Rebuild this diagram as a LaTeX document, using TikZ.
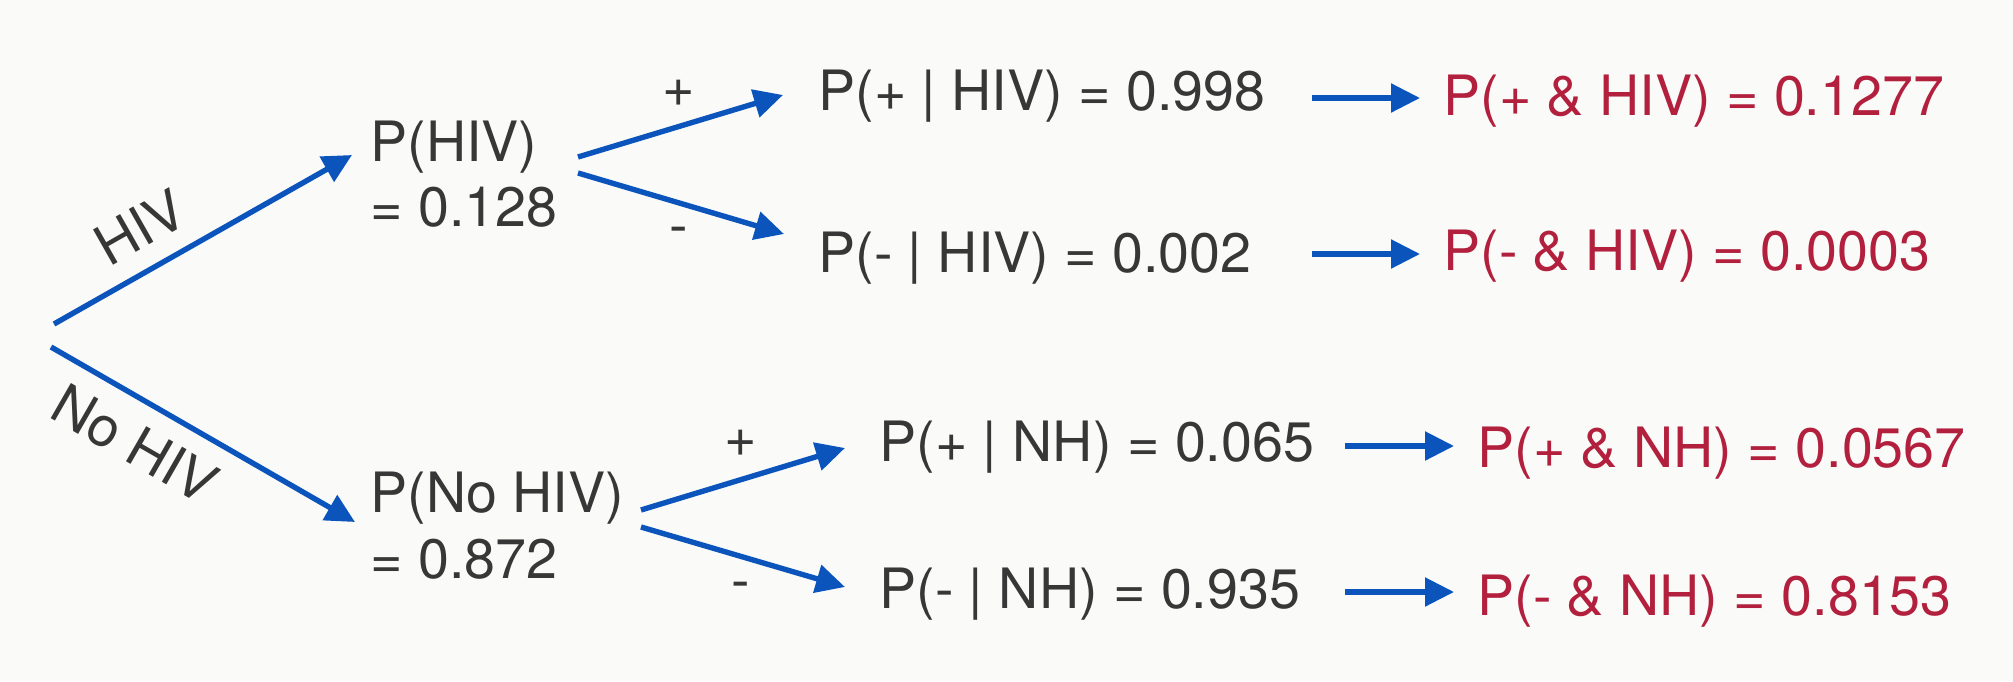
\documentclass[tikz,border=0pt]{standalone}
\usepackage{fontspec}
\setmainfont{TeX Gyre Heros}
\usetikzlibrary{arrows.meta,calc}
\definecolor{arrblue}{RGB}{10,84,188}
\definecolor{txtgray}{RGB}{55,55,55}
\definecolor{jred}{RGB}{178,32,62}
\definecolor{bgcol}{RGB}{250,250,248}
\begin{document}
\begin{tikzpicture}[x=0.5pt,y=-0.5pt,
  arr/.style={draw=arrblue, line width=2.7pt, -{Triangle[length=14.5pt,width=14pt]}},
  txt/.style={text=txtgray, inner sep=0pt, anchor=base west, font=\fontsize{27.8}{33}\selectfont},
  jnt/.style={txt, text=jred},
  lbl/.style={text=txtgray, inner sep=0pt, font=\fontsize{27.8}{33}\selectfont}]
\fill[bgcol] (0,0) rectangle (2013,681);
\useasboundingbox (0,0) rectangle (2013,681);

% root
\coordinate (rootA) at (54,324);
\coordinate (rootB) at (51,347);

% first level
\node[txt] (phiv)  at (370,161) {P(HIV)};
\node[txt] (phivv) at (370,226) {= 0.128};
\node[txt] (pno)   at (370,512) {P(No HIV)};
\node[txt] (pnov)  at (370,578) {= 0.872};

% conditionals
\node[txt] (c1) at (818,110) {P(+ | HIV) = 0.998};
\node[txt] (c2) at (818,272) {P(- | HIV) = 0.002};
\node[txt] (c3) at (879,461) {P(+ | NH) = 0.065};
\node[txt] (c4) at (879,608) {P(- | NH) = 0.935};

% joints
\node[jnt] (j1) at (1443,115) {P(+ \& HIV) = 0.1277};
\node[jnt] (j2) at (1443,270) {P(- \& HIV) = 0.0003};
\node[jnt] (j3) at (1477,467) {P(+ \& NH) = 0.0567};
\node[jnt] (j4) at (1477,615) {P(- \& NH) = 0.8153};

% branch labels
\node[lbl, rotate=29.6]  (lhiv)  at (140,227) {HIV};
\node[lbl, rotate=-29.9] (lnohiv) at (135,444) {No HIV};
\node[lbl] (p1) at (679,93)  {+};
\node[lbl] (m1) at (679,236) {-};
\node[lbl] (p2) at (741,443) {+};
\node[lbl] (m2) at (741,591) {-};

% arrows
\draw[arr] (rootA) -- ($(phiv.base west)+(-18,-6)$);
\draw[arr] (rootB) -- ($(pno.base west)+(-15,10)$);
\draw[arr] ($(phiv.base west)+(208,-4)$) -- ($(c1.base west)+(-35,-15)$);
\draw[arr] ($(phiv.base west)+(208,12)$) -- ($(c2.base west)+(-34,-38)$);
\draw[arr] ($(pno.base west)+(271,-2)$) -- ($(c3.base west)+(-34,-13)$);
\draw[arr] ($(pno.base west)+(271,15)$) -- ($(c4.base west)+(-34,-21)$);

\draw[arr] ($(c1.base west)+(494,-12)$) -- ($(j1.base west)+(-23,-17)$);
\draw[arr] ($(c2.base west)+(494,-18)$) -- ($(j2.base west)+(-23,-16)$);
\draw[arr] ($(c3.base west)+(466,-15)$) -- ($(j3.base west)+(-23,-21)$);
\draw[arr] ($(c4.base west)+(466,-16)$) -- ($(j4.base west)+(-23,-23)$);
\end{tikzpicture}
\end{document}
